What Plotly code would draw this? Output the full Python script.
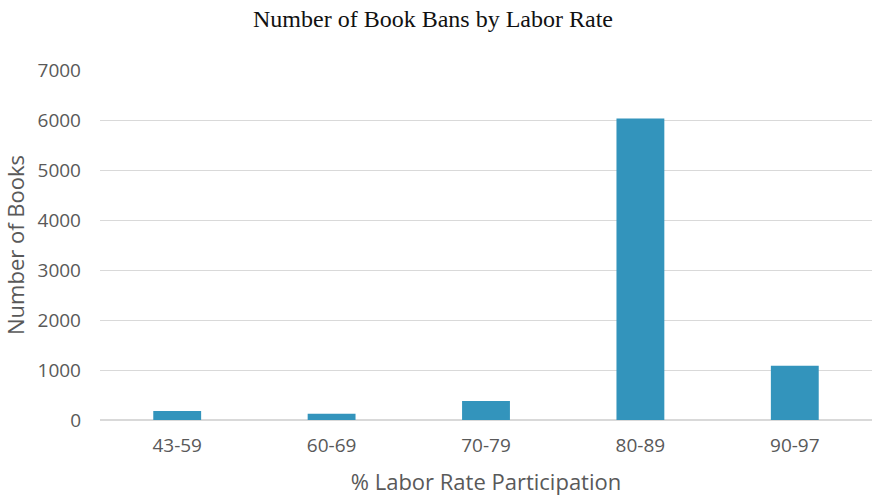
import plotly.graph_objects as go

categories = ["43-59", "60-69", "70-79", "80-89", "90-97"]
book_bans = [180, 126, 380, 6030, 1085]
y_ticks = [0, 1000, 2000, 3000, 4000, 5000, 6000, 7000]

fig = go.Figure(go.Bar(
    x=categories, y=book_bans,
    marker=dict(color="#3394bc", line=dict(width=0)),
))

fig.update_layout(
    width=873, height=497,
    margin=dict(l=100, r=1, t=70, b=77),
    paper_bgcolor="white", plot_bgcolor="white",
    bargap=0.69,
    showlegend=False,
    title=dict(text="Number of Book Bans by Labor Rate", x=0.496, xanchor="center",
               y=0.962, yanchor="middle",
               font=dict(family="Liberation Serif", size=24, color="#111111")),
    font=dict(family="Open Sans", color="#595959"),
)
fig.update_xaxes(
    tickfont=dict(size=19, color="#595959"),
    title=dict(text="% Labor Rate Participation", font=dict(size=22, color="#595959"), standoff=17),
    showline=False, ticks="", showgrid=False, ticklabelstandoff=12,
)
fig.update_yaxes(
    range=[0, 7000], tickvals=y_ticks,
    tickfont=dict(size=19, color="#595959"),
    title=dict(text="Number of Books", font=dict(size=22, color="#595959"), standoff=10),
    showgrid=True, gridcolor="#d9d9d9", gridwidth=1,
    zeroline=True, zerolinecolor="#d9d9d9", zerolinewidth=1.5,
    ticks="", ticklabelstandoff=18,
)

fig.write_html("out.html")
